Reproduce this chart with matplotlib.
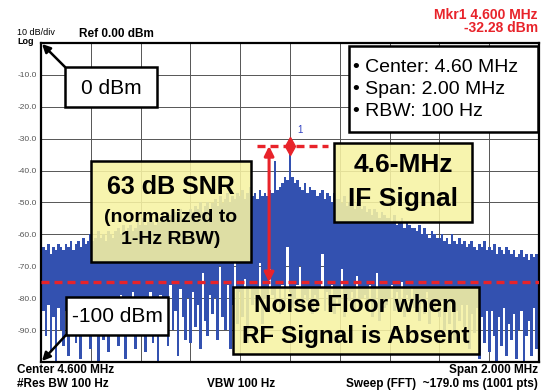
import numpy as np
import matplotlib
matplotlib.use("Agg")
import matplotlib.pyplot as plt
from matplotlib.patches import Rectangle, FancyArrowPatch
from matplotlib.colors import to_rgba

plt.rcParams['font.family'] = ['Liberation Sans', 'DejaVu Sans']

# sweep: 3.6 .. 5.6 MHz, every 10 kHz
START_MHZ = 3.6
STEP_MHZ = 0.01
MARKER_MHZ = 4.6
MARKER_DBM = -32.28
NOISE_FLOOR_DBM = -75.0

# trace peaks (top of the noise band), dBm
trace_top = [
    -66, -64, -65, -63, -66, -64, -65, -63, -64, -65,
    -63, -64, -62, -65, -63, -62, -64, -61, -63, -62,
    -60, -62, -61, -59, -61, -60, -62, -59, -60, -61,
    -59, -58, -60, -57, -59, -58, -57, -59, -58, -56,
    -57, -55, -57, -56, -54, -56, -57, -55, -56, -54,
    -55, -53, -54, -56, -53, -54, -52, -55, -53, -54,
    -52, -53, -51, -52, -50, -53, -51, -50, -52, -50,
    -49, -51, -48, -50, -49, -47, -50, -48, -49, -47,
    -48, -46, -49, -47, -45, -48, -47, -49, -46, -48,
    -47, -48, -46, -47, -37, -46, -45, -44, -42, -43,
    -32.28, -42, -44, -43, -45, -46, -44, -47, -45, -46,
    -46, -48, -47, -46, -49, -47, -48, -50, -47, -49,
    -49, -50, -48, -51, -50, -49, -52, -50, -51, -52,
    -51, -53, -52, -54, -52, -53, -55, -53, -54, -55,
    -55, -56, -54, -57, -56, -55, -58, -56, -57, -58,
    -58, -59, -57, -60, -58, -60, -61, -59, -60, -61,
    -61, -60, -62, -61, -63, -60, -62, -63, -61, -63,
    -62, -64, -63, -62, -64, -65, -63, -64, -62, -65,
    -64, -65, -63, -66, -64, -65, -66, -64, -65, -66,
    -65, -67, -66, -65, -67, -66, -68, -66, -67, -66,
    -67,
]

# trace dips (bottom of each swing), dBm
trace_dip = [
    -99, -84, -92, -82, -97, -86, -100, -83, -90, -95,
    -84, -98, -82, -88, -94, -81, -99, -85, -92, -83,
    -96, -82, -89, -100, -81, -93, -84, -97, -80, -90,
    -83, -95, -79, -88, -99, -82, -91, -78, -96, -84,
    -92, -80, -97, -83, -78, -94, -85, -100, -79, -88,
    -81, -95, -76, -90, -84, -98, -77, -86, -93, -80,
    -94, -78, -89, -82, -96, -72, -87, -92, -79, -85,
    -80, -93, -70, -86, -90, -76, -96, -82, -69, -88,
    -78, -86, -74, -94, -77, -82, -79, -84, -69, -88,
    -80, -84, -71, -79, -82, -77, -85, -76, -81, -64,
    -78, -83, -80, -76, -70, -84, -79, -81, -77, -85,
    -79, -83, -77, -66, -84, -78, -82, -76, -85, -80,
    -82, -71, -86, -79, -81, -78, -84, -73, -83, -80,
    -79, -84, -76, -86, -81, -72, -87, -80, -83, -82,
    -80, -76, -84, -78, -82, -75, -86, -79, -81, -77,
    -83, -79, -87, -81, -85, -78, -88, -82, -84, -80,
    -86, -81, -90, -83, -88, -80, -93, -84, -87, -82,
    -89, -82, -96, -85, -91, -83, -99, -86, -94, -84,
    -97, -84, -92, -100, -86, -95, -83, -98, -88, -93,
    -85, -99, -90, -84, -100, -92, -87, -98, -83, -96,
    -100,
]

y_ticks = [0, -10, -20, -30, -40, -50, -60, -70, -80, -90, -100]
y_tick_labels = ['', '-10.0', '-20.0', '-30.0', '-40.0', '-50.0',
                 '-60.0', '-70.0', '-80.0', '-90.0', '']

BLUE = '#3351b0'
RED = '#e8232a'
YELLOW = to_rgba('#f7f3a3', 0.88)

W, H = 541, 391
fig = plt.figure(figsize=(W / 100, H / 100), dpi=100)
ax = fig.add_axes([41 / W, 1 - 362 / H, (539 - 41) / W, (362 - 43) / H])


def fx(x):
    return x / W


def fy(y):
    return 1 - y / H


freq = START_MHZ + STEP_MHZ * np.arange(len(trace_top))
top = np.array(trace_top)
dip = np.array(trace_dip)
ax.bar(freq, top - dip, bottom=dip, width=STEP_MHZ * 1.08, color=BLUE,
       linewidth=0, zorder=2)

ax.set_xlim(3.6, 5.6)
ax.set_ylim(-100, 0)
ax.set_xticks(np.linspace(3.6, 5.6, 11))
ax.set_xticklabels([])
ax.set_yticks(y_ticks)
ax.set_yticklabels(y_tick_labels)
ax.tick_params(length=0, labelsize=6, labelcolor='#555555', pad=3)
ax.grid(color='#555555', linewidth=0.7)
ax.set_axisbelow(True)
for s in ax.spines.values():
    s.set_linewidth(1.6)

# marker and reference lines
ax.plot([MARKER_MHZ], [MARKER_DBM], 'd', color=RED, ms=9, zorder=4)
ax.text(MARKER_MHZ + 0.03, MARKER_DBM + 4, '1', color='#3040c0', fontsize=7, zorder=4)
ax.plot([4.467, 4.753], [MARKER_DBM, MARKER_DBM], color=RED, lw=2.4,
        dashes=(2.4, 1.5), zorder=3)
ax.axhline(NOISE_FLOOR_DBM, color=RED, lw=2.4, dashes=(2.4, 1.5), zorder=3)
ax.annotate('', xy=(4.516, MARKER_DBM), xytext=(4.516, NOISE_FLOOR_DBM),
            arrowprops=dict(arrowstyle='<|-|>', color=RED, lw=2.2,
                            mutation_scale=14, shrinkA=0, shrinkB=0), zorder=4)


def box(x0, y0, x1, y1, face):
    r = Rectangle((fx(x0), fy(y1)), fx(x1) - fx(x0), fy(y0) - fy(y1),
                  transform=fig.transFigure, facecolor=face, edgecolor='black',
                  lw=1.8, zorder=6)
    fig.add_artist(r)


def arrow(xa, ya, xb, yb):
    fig.add_artist(FancyArrowPatch((fx(xa), fy(ya)), (fx(xb), fy(yb)),
                                   transform=fig.transFigure, arrowstyle='-|>',
                                   mutation_scale=12, color='black', lw=1.8,
                                   shrinkA=0, shrinkB=0, zorder=6))


def label(x, y, s, size, weight='normal', **kw):
    fig.text(fx(x), fy(y), s, fontsize=size, fontweight=weight, zorder=7, **kw)


# annotation boxes
box(65, 67, 157, 107, 'white')
label(111, 88, '0 dBm', 15, ha='center', va='center')
arrow(65, 67, 42, 44)

box(66, 297, 168, 335, 'white')
label(117, 316, '-100 dBm', 15, ha='center', va='center')
arrow(66, 335, 42, 361)

box(349, 46, 538, 132, 'white')
for yy, s in zip([67, 90, 112], ['\u2022 Center: 4.60 MHz', '\u2022 Span: 2.00 MHz',
                                 '\u2022 RBW: 100 Hz']):
    label(353, yy, s, 14, va='center')

box(91, 161, 251, 262, YELLOW)
label(171, 187, '63 dB SNR', 18, 'bold', ha='center', va='center')
label(171, 217, '(normalized to', 14, 'bold', ha='center', va='center')
label(171, 240, '1-Hz RBW)', 14, 'bold', ha='center', va='center')

box(334, 143, 472, 222, YELLOW)
label(403, 165, '4.6-MHz', 19, 'bold', ha='center', va='center')
label(403, 199, 'IF Signal', 19, 'bold', ha='center', va='center')

box(233, 287, 479, 354, YELLOW)
label(356, 305, 'Noise Floor when', 17.5, 'bold', ha='center', va='center')
label(356, 336, 'RF Signal is Absent', 17.5, 'bold', ha='center', va='center')

# instrument header / footer text
label(17, 35, '10 dB/div', 6.5, va='baseline')
label(17, 43.5, 'Log', 6.5, 'bold', va='baseline')
label(79, 34, 'Ref 0.00 dBm', 8.5, 'bold', va='center')
label(538, 15, 'Mkr1 4.600 MHz', 10, 'bold', color=RED, ha='right', va='center')
label(538, 28, '-32.28 dBm', 10, 'bold', color=RED, ha='right', va='center')
label(17, 370, 'Center 4.600 MHz', 8.5, 'bold', va='center')
label(17, 384, '#Res BW 100 Hz', 8.5, 'bold', va='center')
label(207, 384, 'VBW 100 Hz', 8.5, 'bold', va='center')
label(538, 370, 'Span 2.000 MHz', 8.5, 'bold', ha='right', va='center')
label(538, 384, 'Sweep (FFT)  ~179.0 ms (1001 pts)', 8.5, 'bold', ha='right', va='center')

fig.savefig('out.png', dpi=100)
